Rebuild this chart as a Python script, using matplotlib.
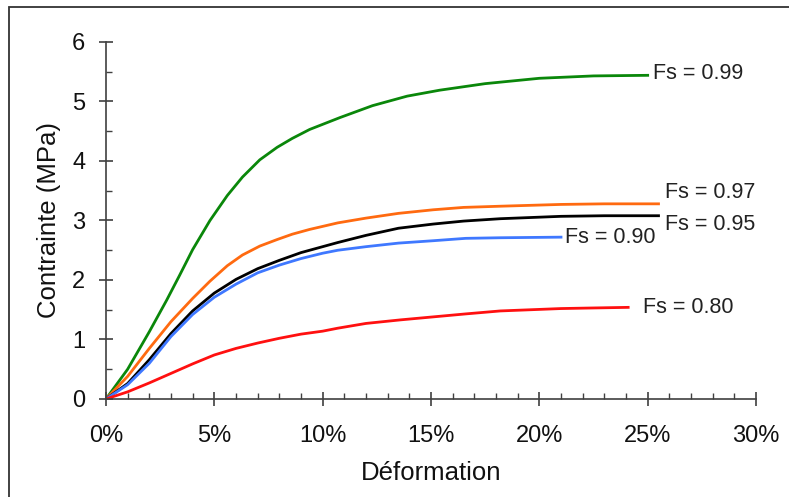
import matplotlib
matplotlib.use("Agg")
import matplotlib.pyplot as plt
from matplotlib.ticker import MultipleLocator, FuncFormatter
from matplotlib.patches import Rectangle

plt.rcParams['font.family'] = ['Liberation Sans', 'DejaVu Sans']

# Data (strain in %, stress in MPa)
x_099 = [0, 1, 2, 2.8, 3.4, 4, 4.8, 5.6, 6.3, 7.1, 7.9, 8.6, 9.4, 10.8, 12.3,
         13.9, 15.4, 17.5, 20, 22.5, 25]
y_099 = [0, 0.5, 1.13, 1.66, 2.08, 2.51, 3.0, 3.42, 3.73, 4.02, 4.23, 4.38,
         4.53, 4.73, 4.93, 5.09, 5.19, 5.3, 5.39, 5.43, 5.44]

x_097 = [0, 1, 2, 3, 4, 4.8, 5.6, 6.3, 7.1, 7.9, 8.6, 9.4, 10.7, 12, 13.5, 15.1,
         16.5, 18.2, 21, 23, 25.5]
y_097 = [0, 0.38, 0.85, 1.30, 1.69, 1.98, 2.24, 2.42, 2.57, 2.68, 2.77, 2.85,
         2.96, 3.04, 3.12, 3.18, 3.22, 3.24, 3.27, 3.28, 3.28]

x_095 = [0, 1, 2, 3, 4, 5, 6, 7, 8, 9, 10, 10.7, 12, 13.5, 15.1, 16.5, 18.2, 21,
         23, 25.5]
y_095 = [0, 0.26, 0.66, 1.10, 1.48, 1.78, 2.01, 2.19, 2.33, 2.46, 2.56, 2.63,
         2.75, 2.87, 2.94, 2.99, 3.03, 3.07, 3.08, 3.08]

x_090 = [0, 1, 2, 3, 4, 5, 6, 7, 8, 9, 10, 10.7, 12, 13.5, 15.1, 16.6, 18.2, 21]
y_090 = [0, 0.24, 0.60, 1.05, 1.42, 1.71, 1.93, 2.12, 2.25, 2.36, 2.45, 2.50,
         2.56, 2.62, 2.66, 2.70, 2.71, 2.72]

x_080 = [0, 1, 2, 3, 4, 5, 6, 7, 8, 9, 10, 10.7, 12, 13.6, 15.1, 16.6, 18.2, 21,
         22.5, 24.1]
y_080 = [0, 0.12, 0.27, 0.43, 0.59, 0.74, 0.85, 0.94, 1.02, 1.09, 1.14, 1.19,
         1.27, 1.33, 1.38, 1.43, 1.48, 1.52, 1.53, 1.54]

series = [
    (x_099, y_099, "#0a870a", "Fs = 0.99", 25.25, 5.38),
    (x_097, y_097, "#ff6a10", "Fs = 0.97", 25.8, 3.38),
    (x_095, y_095, "black", "Fs = 0.95", 25.8, 2.84),
    (x_090, y_090, "#3f78ff", "Fs = 0.90", 21.2, 2.62),
    (x_080, y_080, "#ff1010", "Fs = 0.80", 24.8, 1.445),
]

fig = plt.figure(figsize=(7.89, 4.97), dpi=100)
ax = fig.add_axes([0.1343, 0.1972, 0.8239, 0.7183])

for xs, ys, col, lab, tx, ty in series:
    ax.plot(xs, ys, color=col, lw=2)
    ax.text(tx, ty, lab, fontsize=15.5, color="#222222", va="baseline", ha="left")

ax.set_xlim(0, 30)
ax.set_ylim(0, 6)
ax.xaxis.set_major_locator(MultipleLocator(5))
ax.xaxis.set_minor_locator(MultipleLocator(1))
ax.yaxis.set_major_locator(MultipleLocator(1))
ax.yaxis.set_minor_locator(MultipleLocator(0.5))
ax.xaxis.set_major_formatter(FuncFormatter(lambda v, p: "%d%%" % v))

for s in ["top", "right"]:
    ax.spines[s].set_visible(False)
for s in ["left", "bottom"]:
    ax.spines[s].set_color("#404040")
    ax.spines[s].set_linewidth(1.2)

ax.tick_params(which="major", direction="inout", length=10, width=1.2,
               color="#404040", labelsize=17, labelcolor="#111111")
ax.tick_params(which="minor", direction="in", length=4.5, width=1.0, color="#404040")
ax.tick_params(axis="x", which="major", pad=14)
ax.tick_params(axis="y", which="major", pad=10)

ax.set_xlabel("Déformation", fontsize=18.5, color="#111111", labelpad=10)
ax.set_ylabel("Contrainte (MPa)", fontsize=18.5, color="#111111", labelpad=8)

# frame around the figure (cut off at right and bottom)
fig.patches.append(Rectangle((9 / 789, -0.1), 1.2, 1 - 7 / 497 + 0.1,
                             transform=fig.transFigure, fill=False,
                             edgecolor="#333333", lw=1.3))

fig.savefig("out.png", dpi=100)
